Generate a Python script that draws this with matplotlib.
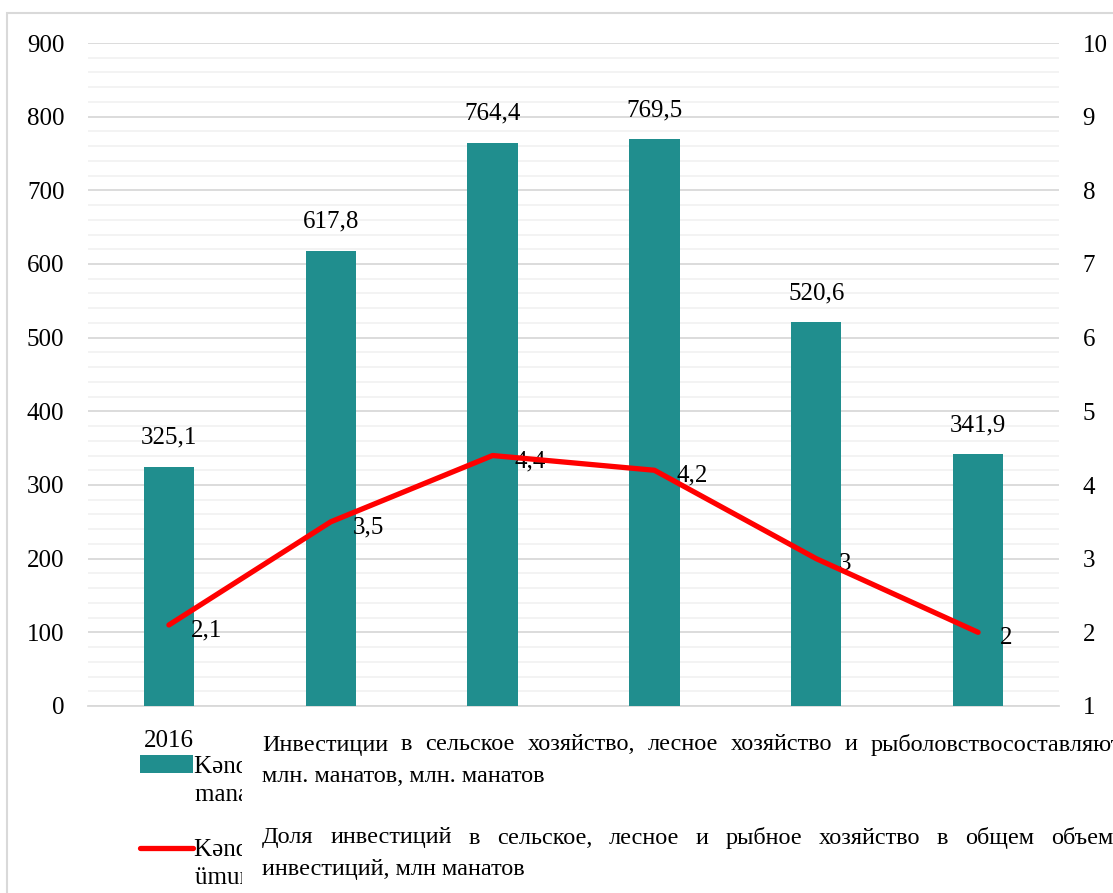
import matplotlib
matplotlib.use("Agg")
import matplotlib.pyplot as plt
from matplotlib.patches import Rectangle
from matplotlib.ticker import MultipleLocator

# data
years = ["2016", "2017", "2018", "2019", "2020", "2021"]
invest = [325.1, 617.8, 764.4, 769.5, 520.6, 341.9]
share = [2.1, 3.5, 4.4, 4.2, 3, 2]

# Azerbaijani legend labels (first line in the legend, second line below it)
bar_label_az = ["Kənd təsərrüfatı, meşə təsərrüfatı və balıqçılığa investisiyalar,",
                "manat ilə"]
line_label_az = ["Kənd, meşə və balıq təsərrüfatına investisiyaların",
                 "ümumi investisiyalarda payı, %"]

ru_bar_1 = "Инвестиции в сельское хозяйство, лесное хозяйство и рыболовствосоставляют"
ru_bar_2 = "млн. манатов, млн. манатов"
ru_line_1 = "Доля инвестиций в сельское, лесное и рыбное хозяйство в общем объеме"
ru_line_2 = "инвестиций, млн манатов"

TEAL = "#208E8E"
RED = "#FF0000"
W, H = 1113, 893

plt.rcParams["font.family"] = ["Liberation Serif", "DejaVu Serif"]
plt.rcParams["font.size"] = 18

fig = plt.figure(figsize=(W / 100, H / 100), dpi=100)
ax = fig.add_axes([88 / W, 1 - 706 / H, (1059 - 88) / W, (706 - 43) / H])
ax2 = ax.twinx()

x = list(range(len(years)))
bars = ax.bar(x, invest, width=0.31, color=TEAL, zorder=3)
ax.bar_label(bars, labels=[f"{v:.1f}".replace(".", ",") for v in invest],
             padding=13, fontsize=18)

ax.set_xlim(-0.5, len(years) - 0.5)
ax.set_ylim(0, 900)
ax.yaxis.set_major_locator(MultipleLocator(100))
ax.yaxis.set_minor_locator(MultipleLocator(20))
ax.grid(axis="y", which="major", color="#D9D9D9", lw=1.3, zorder=0)
ax.grid(axis="y", which="minor", color="#F2F2F2", lw=1.3, zorder=0)
ax.set_axisbelow(True)
ax.set_xticks(x)
ax.set_xticklabels(years)
ax.tick_params(axis="both", which="both", length=0, pad=17)
for s in ["top", "left", "right"]:
    ax.spines[s].set_visible(False)
ax.spines["bottom"].set_color("#D9D9D9")
ax.spines["bottom"].set_linewidth(1.3)

ln, = ax2.plot(x, share, color=RED, lw=3.8, solid_capstyle="round", zorder=4)
for xi, v in zip(x, share):
    ax2.annotate(f"{v:g}".replace(".", ","), (xi, v), xytext=(16, -4),
                 textcoords="offset points", ha="left", va="center", fontsize=18)
ax2.set_ylim(1, 10)
ax2.yaxis.set_major_locator(MultipleLocator(1))
ax2.tick_params(axis="y", length=0, pad=17)
for s in ax2.spines.values():
    s.set_visible(False)

# legend (mostly hidden behind the Russian caption box)
leg = fig.legend(handles=[bars, ln], labels=[bar_label_az[0], line_label_az[0]],
                 loc="upper left", bbox_to_anchor=(140 / W, 1 - 755 / H),
                 frameon=False, handlelength=2.1, handletextpad=0.05,
                 labelspacing=2.42, borderpad=0, borderaxespad=0, fontsize=18)
leg.set_zorder(1)
for txt, y in [(bar_label_az[1], 795), (line_label_az[1], 878)]:
    fig.text(195 / W, 1 - y / H, txt, fontsize=18, va="center", ha="left", zorder=1)

# outer chart border
fig.add_artist(Rectangle((7 / W, -0.1), 1.2, 1 - 13 / H + 0.1,
                         transform=fig.transFigure, fill=False,
                         edgecolor="#D9D9D9", lw=1.5, zorder=0))

# white caption box covering the rest of the legend and tick labels
fig.add_artist(Rectangle((242 / W, 0), 1, 1 - 719 / H, transform=fig.transFigure,
                         facecolor="white", edgecolor="none", zorder=5))


def justify(text, x0, x1, y, size=17.5):
    words = text.split()
    ts = [fig.text(0, 1 - y / H, w, fontsize=size, va="center", ha="left",
                   zorder=6) for w in words]
    r = fig.canvas.get_renderer()
    widths = [t.get_window_extent(r).width for t in ts]
    gap = (x1 - x0 - sum(widths)) / (len(words) - 1)
    pos = x0
    for t, w in zip(ts, widths):
        t.set_x(pos / W)
        pos += w + gap


def plain(text, x0, y, size=17.5):
    fig.text(x0 / W, 1 - y / H, text, fontsize=size, va="center", ha="left", zorder=6)


justify(ru_bar_1, 262, 1122, 745)
plain(ru_bar_2, 262, 777)
justify(ru_line_1, 262, 1124, 838)
plain(ru_line_2, 262, 870)

fig.savefig("out.png", dpi=100)
